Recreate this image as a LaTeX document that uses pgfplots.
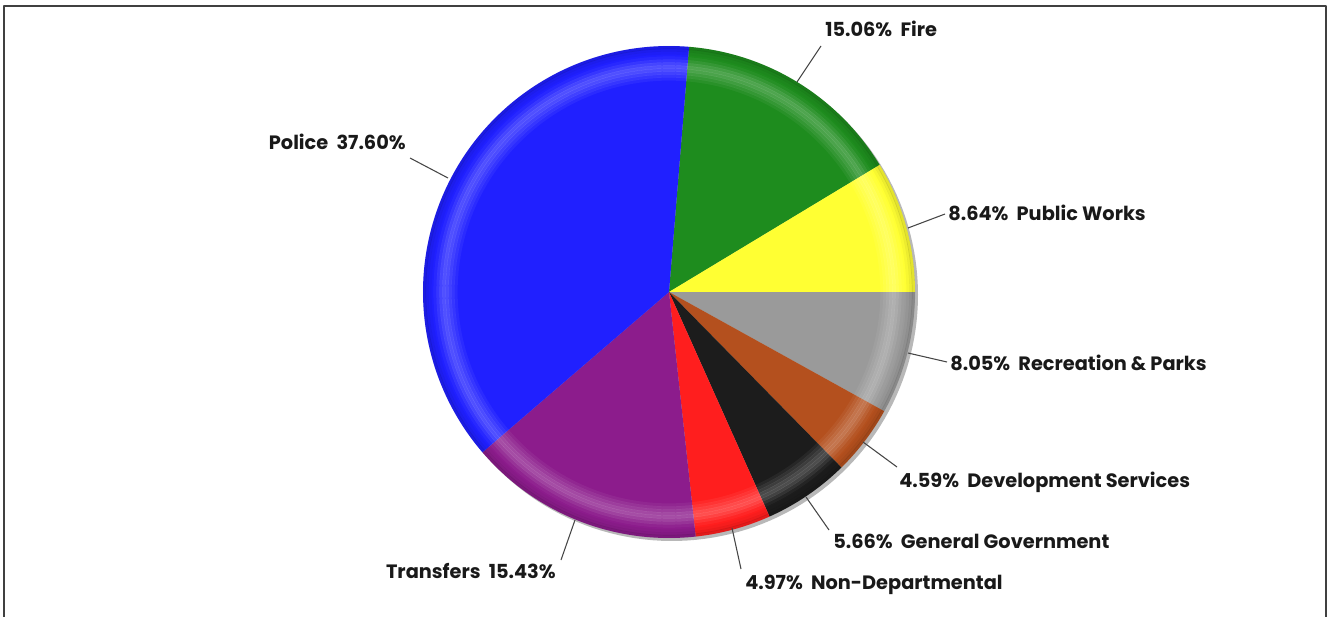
\documentclass[border=0pt]{standalone}
\usepackage{pgfplots}
\pgfplotsset{compat=1.18}
\usepackage{pgfplotstable}
\usepackage{fontspec}
\setmainfont{Poppins}

\definecolor{cFire}{RGB}{30,140,30}
\definecolor{cPW}{RGB}{255,255,51}
\definecolor{cRec}{RGB}{154,154,154}
\definecolor{cDev}{RGB}{180,80,30}
\definecolor{cGen}{RGB}{28,28,28}
\definecolor{cNon}{RGB}{255,30,30}
\definecolor{cTra}{RGB}{140,28,140}
\definecolor{cPol}{RGB}{32,32,255}
\definecolor{leader}{RGB}{70,70,70}

% budget shares (percent), clockwise from Fire
\pgfplotstableread[col sep=comma]{
name,pct
Fire,15.06
Public Works,8.64
Recreation & Parks,8.05
Development Services,4.59
General Government,5.66
Non-Departmental,4.97
Transfers,15.43
Police,37.60
}\budget

\begin{document}
\begin{tikzpicture}
\pgfplotstablegetelem{0}{pct}\of\budget \let\pA\pgfplotsretval
\pgfplotstablegetelem{1}{pct}\of\budget \let\pB\pgfplotsretval
\pgfplotstablegetelem{2}{pct}\of\budget \let\pC\pgfplotsretval
\pgfplotstablegetelem{3}{pct}\of\budget \let\pD\pgfplotsretval
\pgfplotstablegetelem{4}{pct}\of\budget \let\pE\pgfplotsretval
\pgfplotstablegetelem{5}{pct}\of\budget \let\pF\pgfplotsretval
\pgfplotstablegetelem{6}{pct}\of\budget \let\pG\pgfplotsretval
\pgfplotstablegetelem{7}{pct}\of\budget \let\pH\pgfplotsretval
\pgfmathsetmacro{\aO}{3.6*(\pA+\pB)}
\pgfmathsetmacro{\aA}{\aO-3.6*\pA}
\pgfmathsetmacro{\aB}{\aA-3.6*\pB}
\pgfmathsetmacro{\aC}{\aB-3.6*\pC}
\pgfmathsetmacro{\aD}{\aC-3.6*\pD}
\pgfmathsetmacro{\aE}{\aD-3.6*\pE}
\pgfmathsetmacro{\aF}{\aE-3.6*\pF}
\pgfmathsetmacro{\aG}{\aF-3.6*\pG}
\pgfmathsetmacro{\aH}{\aG-3.6*\pH}
\def\cx{669}\def\cy{292}\def\R{246}
\begin{axis}[
  scale only axis, width=998.25pt, height=462.75pt,
  xmin=0, xmax=1331, ymin=0, ymax=617, y dir=reverse,
  hide axis, clip=false,
  every axis plot/.append style={line join=round},
  ring/.style n args={3}{draw=#1, opacity=#2, line width=2.4pt, domain=0:360, samples=240, variable=\t},
]
% shadow
\addplot[fill=black!28, draw=none, domain=0:360, samples=180, variable=\t]
  ({\cx+3+\R*cos(\t)},{\cy+3-\R*sin(\t)}) -- cycle;
% slices
\addplot[fill=cFire, draw=none, domain=\aA:\aO, samples=60, variable=\t]
  ({\cx+\R*cos(\t)},{\cy-\R*sin(\t)}) -- (axis cs:\cx,\cy) -- cycle;
\addplot[fill=cPW, draw=none, domain=\aB:\aA, samples=40, variable=\t]
  ({\cx+\R*cos(\t)},{\cy-\R*sin(\t)}) -- (axis cs:\cx,\cy) -- cycle;
\addplot[fill=cRec, draw=none, domain=\aC:\aB, samples=40, variable=\t]
  ({\cx+\R*cos(\t)},{\cy-\R*sin(\t)}) -- (axis cs:\cx,\cy) -- cycle;
\addplot[fill=cDev, draw=none, domain=\aD:\aC, samples=30, variable=\t]
  ({\cx+\R*cos(\t)},{\cy-\R*sin(\t)}) -- (axis cs:\cx,\cy) -- cycle;
\addplot[fill=cGen, draw=none, domain=\aE:\aD, samples=30, variable=\t]
  ({\cx+\R*cos(\t)},{\cy-\R*sin(\t)}) -- (axis cs:\cx,\cy) -- cycle;
\addplot[fill=cNon, draw=none, domain=\aF:\aE, samples=30, variable=\t]
  ({\cx+\R*cos(\t)},{\cy-\R*sin(\t)}) -- (axis cs:\cx,\cy) -- cycle;
\addplot[fill=cTra, draw=none, domain=\aG:\aF, samples=60, variable=\t]
  ({\cx+\R*cos(\t)},{\cy-\R*sin(\t)}) -- (axis cs:\cx,\cy) -- cycle;
\addplot[fill=cPol, draw=none, domain=\aH:\aG, samples=120, variable=\t]
  ({\cx+\R*cos(\t)},{\cy-\R*sin(\t)}) -- (axis cs:\cx,\cy) -- cycle;
% soft bevel highlight (graded rings)
\addplot[ring={white}{0.05}{}] ({\cx+(\R-33)*cos(\t)},{\cy-(\R-33)*sin(\t)});
\addplot[ring={white}{0.10}{}] ({\cx+(\R-30)*cos(\t)},{\cy-(\R-30)*sin(\t)});
\addplot[ring={white}{0.15}{}] ({\cx+(\R-27)*cos(\t)},{\cy-(\R-27)*sin(\t)});
\addplot[ring={white}{0.20}{}] ({\cx+(\R-24)*cos(\t)},{\cy-(\R-24)*sin(\t)});
\addplot[ring={white}{0.22}{}] ({\cx+(\R-21)*cos(\t)},{\cy-(\R-21)*sin(\t)});
\addplot[ring={white}{0.17}{}] ({\cx+(\R-18)*cos(\t)},{\cy-(\R-18)*sin(\t)});
\addplot[ring={white}{0.10}{}] ({\cx+(\R-15)*cos(\t)},{\cy-(\R-15)*sin(\t)});
\addplot[ring={white}{0.04}{}] ({\cx+(\R-12)*cos(\t)},{\cy-(\R-12)*sin(\t)});
\addplot[ring={black}{0.03}{}] ({\cx+(\R-7)*cos(\t)},{\cy-(\R-7)*sin(\t)});
\addplot[ring={black}{0.07}{}] ({\cx+(\R-4)*cos(\t)},{\cy-(\R-4)*sin(\t)});
\addplot[ring={black}{0.11}{}] ({\cx+(\R-1.5)*cos(\t)},{\cy-(\R-1.5)*sin(\t)});
% leader lines
\addplot[leader, line width=0.8pt] coordinates {(410,158) (448,178)};
\addplot[leader, line width=0.8pt] coordinates {(797,82) (821,46)};
\addplot[leader, line width=0.8pt] coordinates {(908,228) (945,214)};
\addplot[leader, line width=0.8pt] coordinates {(908,353) (947,362)};
\addplot[leader, line width=0.8pt] coordinates {(863,442) (897,467)};
\addplot[leader, line width=0.8pt] coordinates {(806,497) (829,530)};
\addplot[leader, line width=0.8pt] coordinates {(732,528) (741,569)};
\addplot[leader, line width=0.8pt] coordinates {(575,520) (561,560)};
% labels
\begin{scope}[every node/.style={font=\fontsize{14.5pt}{16pt}\selectfont\bfseries, inner sep=0pt, text=black!90}]
\node[anchor=base east] at (axis cs:406,149) {Police\ \ 37.60\%};
\node[anchor=base west] at (axis cs:825,37) {15.06\%\ \ Fire};
\node[anchor=base west] at (axis cs:948,220) {8.64\%\ \ Public Works};
\node[anchor=base west] at (axis cs:950,370) {8.05\%\ \ Recreation \& Parks};
\node[anchor=base west] at (axis cs:899,487) {4.59\%\ \ Development Services};
\node[anchor=base west] at (axis cs:833,548) {5.66\%\ \ General Government};
\node[anchor=base west] at (axis cs:745,589) {4.97\%\ \ Non-Departmental};
\node[anchor=base east] at (axis cs:556,578) {Transfers\ \ 15.43\%};
\end{scope}
% frame
\addplot[black!75, line width=1.2pt] coordinates {(4,617) (4,6) (1326,6) (1326,617)};
\end{axis}
\pgfresetboundingbox
\path (current axis.south west) rectangle (current axis.north east);
\end{tikzpicture}
\end{document}
